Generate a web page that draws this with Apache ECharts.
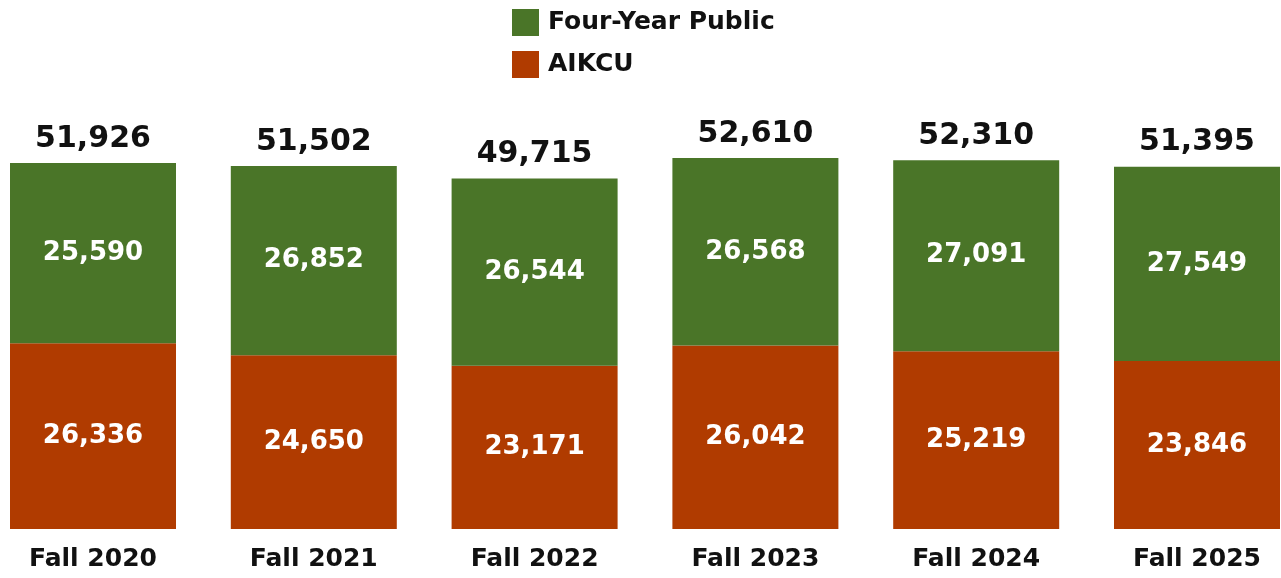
<!DOCTYPE html>
<html>
<head>
<meta charset="utf-8">
<script src="https://cdn.jsdelivr.net/npm/echarts@6/dist/echarts.min.js"></script>
<style>
  html, body { margin: 0; padding: 0; background: #ffffff; }
  #chart { width: 1281px; height: 578px; }
</style>
</head>
<body>
<div id="chart"></div>
<script>
// Enrollment by fall term
const terms = ["Fall 2020", "Fall 2021", "Fall 2022", "Fall 2023", "Fall 2024", "Fall 2025"];
const fourYearPublic = [25590, 26852, 26544, 26568, 27091, 27549];
const aikcu = [26336, 24650, 23171, 26042, 25219, 23846];
const totals = [51926, 51502, 49715, 52610, 52310, 51395];

const GREEN = "#4a7528";
const ORANGE = "#b03b00";

function fmt(v) {
  return Number(v).toLocaleString("en-US");
}

const chart = echarts.init(document.getElementById("chart"));

chart.setOption({
  animation: false,
  legend: {
    orient: "vertical",
    left: 507,
    top: 4,
    itemWidth: 27,
    itemHeight: 27,
    itemGap: 15,
    icon: "rect",
    data: ["Four-Year Public", "AIKCU"],
    textStyle: {
      fontFamily: "DejaVu Sans",
      fontWeight: "bold",
      fontSize: 25,
      color: "#111111",
      padding: [0, 0, 0, 4],
    },
  },
  grid: {
    left: -17.4,
    right: -26.4,
    top: 106,
    bottom: 49,
    outerBoundsMode: "none",
  },
  xAxis: {
    type: "category",
    data: terms,
    axisLine: { show: false },
    axisTick: { show: false },
    axisLabel: {
      margin: 18,
      fontFamily: "DejaVu Sans",
      fontWeight: "bold",
      fontSize: 25,
      color: "#111111",
    },
  },
  yAxis: {
    type: "value",
    min: 0,
    max: 60000,
    show: false,
    splitLine: { show: false },
  },
  series: [
    {
      name: "AIKCU",
      type: "bar",
      stack: "total",
      barWidth: 166,
      data: aikcu,
      itemStyle: { color: ORANGE },
      label: {
        show: true,
        position: "inside",
        formatter: (p) => fmt(p.value),
        fontFamily: "DejaVu Sans",
        fontWeight: "bold",
        fontSize: 26,
        color: "#ffffff",
      },
    },
    {
      name: "Four-Year Public",
      type: "bar",
      stack: "total",
      barWidth: 166,
      data: fourYearPublic,
      itemStyle: { color: GREEN },
      label: {
        show: true,
        position: "inside",
        formatter: (p) => fmt(p.value),
        fontFamily: "DejaVu Sans",
        fontWeight: "bold",
        fontSize: 26,
        color: "#ffffff",
      },
    },
    {
      // invisible series carrying the totals above each stack
      name: "Total",
      type: "bar",
      stack: "total",
      barWidth: 166,
      data: terms.map(() => 0),
      itemStyle: { color: "transparent" },
      label: {
        show: true,
        position: "top",
        distance: 9,
        formatter: (p) => fmt(totals[p.dataIndex]),
        fontFamily: "DejaVu Sans",
        fontWeight: "bold",
        fontSize: 30,
        color: "#111111",
      },
    },
  ],
});
</script>
</body>
</html>
